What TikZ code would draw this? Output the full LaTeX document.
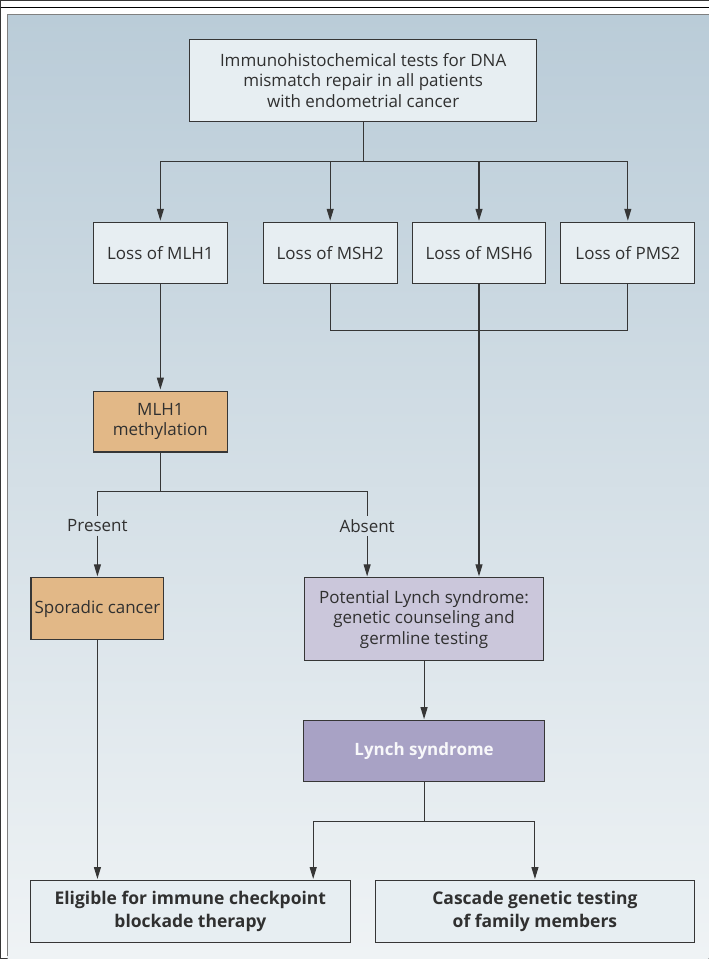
\documentclass[tikz,border=0pt]{standalone}
\usepackage{fontspec}
\setmainfont{Open Sans}
\usetikzlibrary{positioning,arrows.meta}

\definecolor{boxfill}{HTML}{E7EEF2}
\definecolor{orangefill}{HTML}{E2B887}
\definecolor{lilacfill}{HTML}{CBC7DB}
\definecolor{purplefill}{HTML}{A8A2C5}
\definecolor{linegray}{HTML}{363636}
\definecolor{txtgray}{HTML}{303030}
\definecolor{bgtop}{HTML}{BACCD8}
\definecolor{bgbottom}{HTML}{EFF3F5}

\begin{document}
\begin{tikzpicture}[x=1pt, y=-1pt,
	main/.style={rectangle, draw=linegray, line width=1.1pt, fill=boxfill, text=txtgray, align=center, inner sep=0pt, font=\fontsize{17}{20.5}\selectfont},
	loss/.style={main, minimum width=134pt, minimum height=61pt},
	result/.style={main, minimum width=320pt, minimum height=62pt, font=\fontsize{17.5}{22.5}\selectfont\bfseries},
	lbl/.style={text=txtgray, inner sep=3pt, font=\fontsize{17}{20.5}\selectfont},
	arr/.style={-{Triangle[length=12pt,width=7pt]}, shorten >=1pt},
	every path/.style={line width=1.1pt, draw=linegray}
	]

	% panel
	\useasboundingbox (0,0) rectangle (709,959);
	\fill [white, draw=none] (0,0) rectangle (709,959);
	\shade [top color=bgtop, bottom color=bgbottom, draw=none] (7,14) rectangle (709,959);
	\draw [black, line width=1.6pt] (0,7) -- (709,7);
	\draw [gray, line width=1.5pt] (7,957) -- (7,14) -- (709,14);

		\node (tests) [main, minimum width=348pt, minimum height=82pt] at (363,80) {Immunohistochemical tests for DNA\\mismatch repair in all patients\\with endometrial cancer};
			\node (mlh1) [loss] at (160,252.5) {Loss of MLH1};
			\node (msh2) [loss] at (330,252.5) {Loss of MSH2};
			\node (msh6) [loss, right=13.9pt of msh2] {Loss of MSH6};
			\node (pms2) [loss, right=13.9pt of msh6] {Loss of PMS2};
				\node (methyl) [loss, fill=orangefill] at (160,421.5) {MLH1\\methylation};
				\node (present) [lbl] at (97,526) {Present};
				\node (absent) [lbl] at (367,526) {Absent};
				\node (sporadic) [loss, fill=orangefill, minimum width=133pt, minimum height=62pt] at (97,609) {Sporadic cancer};
				\node (potential) [main, fill=lilacfill, minimum width=240pt, minimum height=83pt] at (424,619.5) {Potential Lynch syndrome:\\genetic counseling and\\germline testing};
				\node (lynch) [main, fill=purplefill, text=white!92!purplefill, minimum width=241pt, minimum height=61pt, font=\fontsize{17}{20.5}\selectfont\bfseries] at (424,751.5) {Lynch syndrome};
					\node (eligible) [result] at (190,912) {Eligible for immune checkpoint\\blockade therapy};
					\node (cascade) [result] at (535,912) {Cascade genetic testing\\of family members};


	\draw [arr] (tests.south)--++(0,40)-| (mlh1.north);
	\draw [arr] (tests.south)--++(0,40)-| (msh2.north);
	\draw [arr] (tests.south)--++(0,40)-| (msh6.north);
	\draw [arr] (tests.south)--++(0,40)-| (pms2.north);
	\draw (msh2.south)--++(0,47)-| (pms2.south);
	\draw [arr] (msh6.south)-- (msh6.south |- potential.north);
	\draw [arr] (mlh1.south)-- (methyl.north);
	\draw (methyl.south)--++(0,39)-| (present.north);
	\draw (methyl.south)--++(0,39)-| (absent.north);
	\draw [arr] (present.south)-- (sporadic.north);
	\draw [arr] (absent.south)-- (absent.south |- potential.north);
	\draw [arr] (potential.south)-- (lynch.north);
	\draw [arr] (sporadic.south)-- (sporadic.south |- eligible.north);
	\draw [arr] (lynch.south)--++(0,39)-| (313,0 |- eligible.north);
	\draw [arr] (lynch.south)--++(0,39)-| (cascade.north);

	\end{tikzpicture}
\end{document}
